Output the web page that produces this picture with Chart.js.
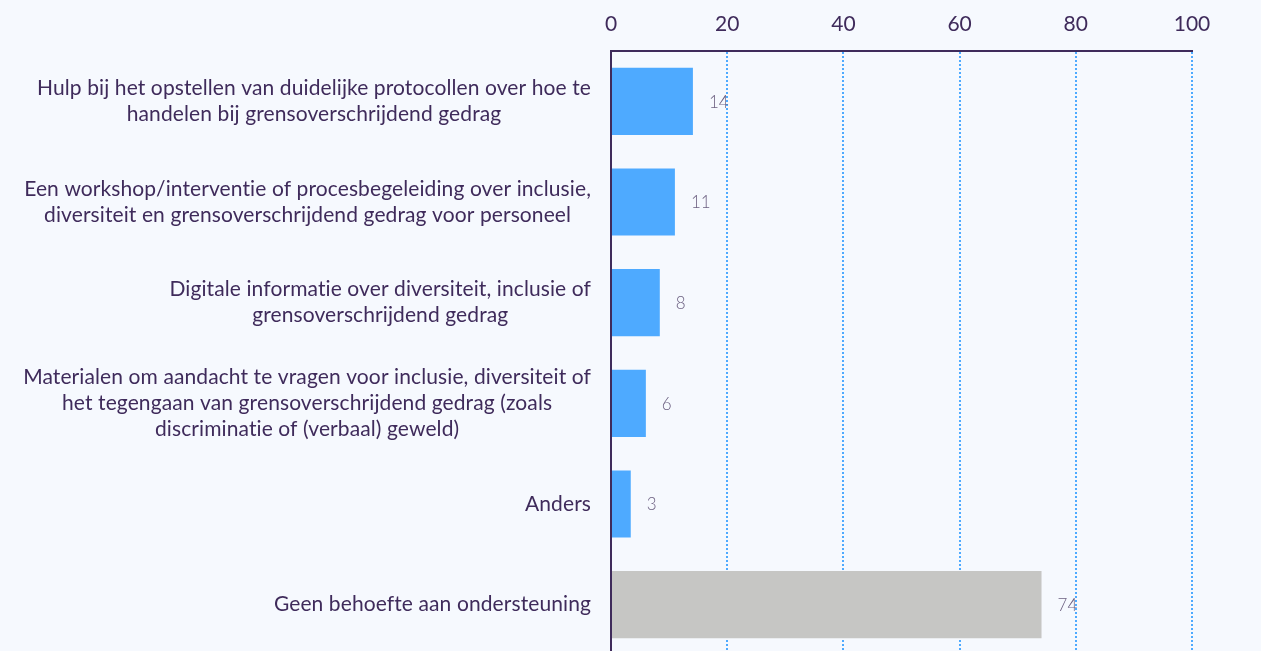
<!DOCTYPE html>
<html>
<head>
<meta charset="utf-8">
<script src="https://cdn.jsdelivr.net/npm/chart.js@4/dist/chart.umd.min.js"></script>
<style>
  html, body { margin: 0; padding: 0; background: #f6f9fe; overflow: hidden; }
  #wrap { width: 1261px; height: 655px; }
</style>
</head>
<body>
<div id="wrap"><canvas id="needsChart" width="1261" height="655"></canvas></div>
<script>
// categories (each entry is one label, split into its lines)
const categories = [
  ['Hulp bij het opstellen van duidelijke protocollen over hoe te', 'handelen bij grensoverschrijdend gedrag'],
  ['Een workshop/interventie of procesbegeleiding over inclusie,', 'diversiteit en grensoverschrijdend gedrag voor personeel'],
  ['Digitale informatie over diversiteit, inclusie of', 'grensoverschrijdend gedrag'],
  ['Materialen om aandacht te vragen voor inclusie, diversiteit of', 'het tegengaan van grensoverschrijdend gedrag (zoals', 'discriminatie of (verbaal) geweld)'],
  ['Anders'],
  ['Geen behoefte aan ondersteuning']
];
const values = [14.1, 11, 8.4, 6, 3.4, 74.1];
const xTicks = [0, 20, 40, 60, 80, 100];

const barColors = ['#4eaaff', '#4eaaff', '#4eaaff', '#4eaaff', '#4eaaff', '#c6c6c4'];
const textColor = '#3f2b5b';

// category labels: block right aligned against the axis, lines centered inside it
const categoryLabels = {
  id: 'categoryLabels',
  afterDraw(chart) {
    const ctx = chart.ctx;
    const y = chart.scales.y;
    const right = chart.chartArea.left - 20;
    const lineH = 26;
    ctx.save();
    ctx.font = '21px Lato';
    ctx.letterSpacing = '0.1px'; // no "ti" ligatures, like the original
    ctx.fillStyle = textColor;
    ctx.textAlign = 'center';
    ctx.textBaseline = 'middle';
    categories.forEach((lines, i) => {
      const w = Math.max(...lines.map(l => ctx.measureText(l).width));
      const cx = right - w / 2;
      const cy = y.getPixelForValue(i);
      const top = cy - (lines.length - 1) * lineH / 2;
      lines.forEach((l, j) => ctx.fillText(l, cx, top + j * lineH));
    });
    ctx.restore();
  }
};

// value labels next to the bars
const valueLabels = {
  id: 'valueLabels',
  afterDatasetsDraw(chart) {
    const ctx = chart.ctx;
    const meta = chart.getDatasetMeta(0);
    ctx.save();
    ctx.font = '300 17px Lato';
    ctx.fillStyle = '#6b5f80';
    ctx.textAlign = 'left';
    ctx.textBaseline = 'middle';
    meta.data.forEach((bar, i) => {
      ctx.fillText(Math.round(values[i]), bar.x + 16, bar.y + 1);
    });
    ctx.restore();
  }
};

const ctx = document.getElementById('needsChart').getContext('2d');
const needsChart = new Chart(ctx, {
  type: 'bar',
  data: {
    labels: categories.map(c => c.join(' ')),
    datasets: [{
      data: values,
      backgroundColor: barColors,
      borderWidth: 0,
      categoryPercentage: 1,
      barPercentage: 0.667
    }]
  },
  options: {
    indexAxis: 'y',
    responsive: false,
    animation: false,
    layout: { padding: { left: 0, right: 69, top: 0, bottom: 0 } },
    plugins: {
      legend: { display: false },
      tooltip: { enabled: false }
    },
    scales: {
      x: {
        position: 'top',
        min: 0,
        max: 100,
        afterBuildTicks: scale => { scale.ticks = xTicks.map(v => ({ value: v })); },
        afterFit: scale => { scale.height = 51; },
        ticks: {
          color: textColor,
          font: { family: 'Lato', size: 21 },
          padding: 14
        },
        grid: {
          drawTicks: false,
          color: c => c.index === 0 ? 'rgba(0,0,0,0)' : '#4eaaff',
          lineWidth: 2
        },
        border: { color: textColor, width: 2, dash: [2, 2] }
      },
      y: {
        afterFit: scale => { scale.width = 611; },
        ticks: { display: false },
        grid: { display: false },
        border: { color: textColor, width: 2 }
      }
    }
  },
  plugins: [categoryLabels, valueLabels]
});
</script>
</body>
</html>
